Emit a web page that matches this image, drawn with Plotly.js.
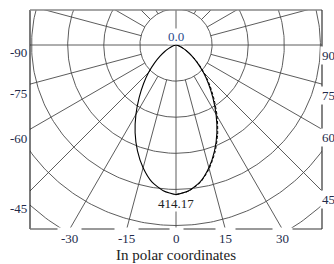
<!DOCTYPE html>
<html><head><meta charset="utf-8">
<script src="https://cdn.plot.ly/plotly-3.0.1.min.js"></script>
<style>html,body{margin:0;padding:0;background:#fff}#chart{width:334px;height:264px}</style>
</head><body><div id="chart"></div>
<script>
// ---- data ----
const gammaAngles    = [0, 5, 10, 15, 20, 25, 30, 35, 40, 45, 50, 55, 60, 65, 70, 75, 80, 85, 90];
const intensityC0    = [414.17, 405, 385, 352, 312, 268, 222, 178, 140, 107, 78, 54, 36, 22, 12, 6, 2.5, 0.8, 0];
const intensityC90   = [414.17, 406, 387, 355, 316, 273, 228, 184, 146, 112, 82, 57, 38, 23, 13, 6.5, 2.8, 0.9, 0];
const maxIntensity = 414.17;
const centerValue = 0.0;
const ringValues = [100, 200, 300, 400, 500, 600];
const spokeAngles = [-165, -150, -135, -120, -105, -90, -75, -60, -45, -30, -15, 0, 15, 30, 45, 60, 75, 90, 105, 120, 135, 150, 165, 180];
const leftLabels  = ['-90', '-75', '-60', '-45'];
const rightLabels = ['90', '75', '60', '45'];
const bottomLabelAngles = [-30, -15, 0, 15, 30];
const chartTitle = 'In polar coordinates';

// ---- positions (layout only) ----
const leftLabelY  = [-22, -133, -258, -454];
const rightLabelY = [-28, -139, -255, -429];
const XR = 404.4, YTOP = 96.95, YBOT = -509.7;

const rad = d => d * Math.PI / 180;
const px = (r, a) => r * Math.sin(rad(a));
const py = (r, a) => -r * Math.cos(rad(a));

const gridColor = '#4a4a4a';
const traces = [];
ringValues.forEach(r => {
  const xs = [], ys = [];
  for (let a = 0; a <= 360; a += 1) { xs.push(px(r, a)); ys.push(py(r, a)); }
  traces.push({x: xs, y: ys, mode: 'lines', line: {color: gridColor, width: 0.9}, hoverinfo: 'skip', showlegend: false});
});
spokeAngles.forEach(a => {
  const r0 = (a % 90 === 0) ? 0 : ringValues[0];
  traces.push({x: [px(r0, a), px(2000, a)], y: [py(r0, a), py(2000, a)], mode: 'lines',
    line: {color: gridColor, width: 0.9}, hoverinfo: 'skip', showlegend: false});
});
// C0/C180 plane: solid, symmetric
const cx = [], cy = [];
for (let i = gammaAngles.length - 1; i >= 0; i--) { cx.push(px(intensityC0[i], -gammaAngles[i])); cy.push(py(intensityC0[i], -gammaAngles[i])); }
for (let i = 1; i < gammaAngles.length; i++) { cx.push(px(intensityC0[i], gammaAngles[i])); cy.push(py(intensityC0[i], gammaAngles[i])); }
traces.push({x: cx, y: cy, mode: 'lines', line: {color: '#000', width: 1.1, shape: 'spline', smoothing: 0.6}, hoverinfo: 'skip', showlegend: false});
// C90 plane: dashed, right half
const dx = [], dy = [];
for (let i = 0; i < gammaAngles.length; i++) { dx.push(px(intensityC90[i], gammaAngles[i])); dy.push(py(intensityC90[i], gammaAngles[i])); }
traces.push({x: dx, y: dy, mode: 'lines', line: {color: '#000', width: 1, dash: '3px,2px', shape: 'spline', smoothing: 0.6}, hoverinfo: 'skip', showlegend: false});

const fontSerif = 'Liberation Serif, Times New Roman, serif';
const labelColor = '#222a4a';
const annotations = [];
leftLabels.forEach((t, i) => annotations.push({xref: 'paper', yref: 'y', x: 0, y: leftLabelY[i], text: t, showarrow: false,
  xanchor: 'right', yanchor: 'middle', xshift: -1, font: {family: fontSerif, size: 13, color: labelColor}}));
rightLabels.forEach((t, i) => annotations.push({xref: 'paper', yref: 'y', x: 1, y: rightLabelY[i], text: t, showarrow: false,
  xanchor: 'left', yanchor: 'middle', xshift: -2, bgcolor: '#fff', borderpad: 1, font: {family: fontSerif, size: 13, color: labelColor}}));
bottomLabelAngles.forEach(a => annotations.push({xref: 'x', yref: 'paper', x: Math.tan(rad(a)) * -YBOT, y: 0, text: String(a), showarrow: false,
  xanchor: 'center', yanchor: 'top', yshift: 2, bgcolor: '#fff', borderpad: 3, font: {family: fontSerif, size: 13, color: labelColor}}));
annotations.push({xref: 'x', yref: 'y', x: 0, y: 1, text: centerValue.toFixed(1), showarrow: false, xanchor: 'center', yanchor: 'bottom',
  bgcolor: '#fff', borderpad: 0, font: {family: fontSerif, size: 13, color: '#2b4a8b'}});
annotations.push({xref: 'x', yref: 'y', x: 0, y: -maxIntensity, text: maxIntensity.toFixed(2), showarrow: false, xanchor: 'center', yanchor: 'top',
  bgcolor: '#fff', borderpad: 0, font: {family: fontSerif, size: 13, color: '#222'}});

const shapes = [
  {type: 'line', xref: 'paper', yref: 'paper', x0: 0, x1: 0, y0: 0, y1: 1, line: {color: '#222', width: 1.2}, layer: 'above'},
  {type: 'line', xref: 'paper', yref: 'paper', x0: 0, x1: 1, y0: 1, y1: 1, line: {color: '#888', width: 1.5}, layer: 'above'},
  {type: 'line', xref: 'paper', yref: 'paper', x0: 0, x1: 1, y0: 0, y1: 0, line: {color: '#777', width: 1.5}, layer: 'above'},
  {type: 'line', xref: 'paper', yref: 'paper', x0: 1, x1: 1, y0: 0, y1: 1, line: {color: '#333', width: 1.2}, layer: 'above'}
];

const layout = {
  width: 334, height: 264,
  margin: {l: 30, r: 12, t: 10, b: 35, pad: 0},
  paper_bgcolor: '#fff', plot_bgcolor: '#fff',
  xaxis: {range: [-XR, XR], visible: false, fixedrange: true},
  yaxis: {range: [YBOT, YTOP], visible: false, fixedrange: true},
  showlegend: false,
  title: {text: chartTitle, x: 0.5, xref: 'paper', xanchor: 'center', y: 1 - 255 / 264, yanchor: 'middle', yref: 'container',
    font: {family: fontSerif, size: 15, color: '#222'}},
  annotations: annotations,
  shapes: shapes
};
Plotly.newPlot('chart', traces, layout, {staticPlot: true, displayModeBar: false});
</script></body></html>
